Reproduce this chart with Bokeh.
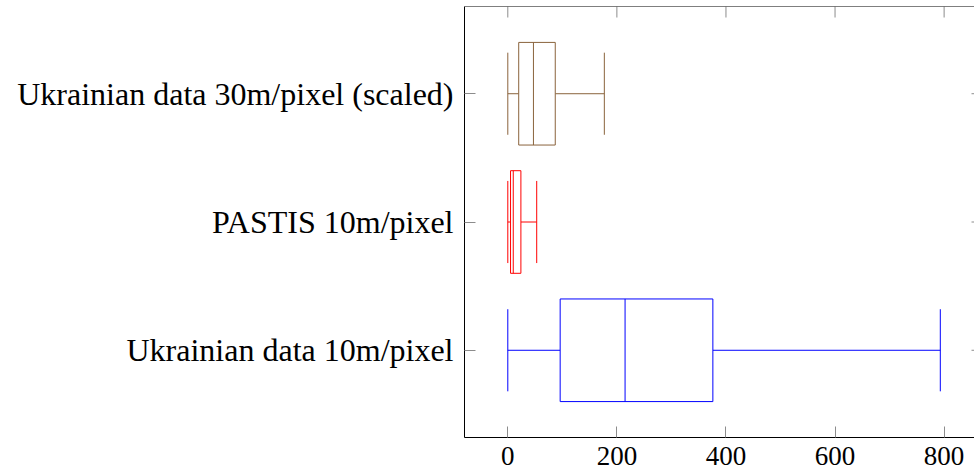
from bokeh.plotting import figure
from bokeh.models import LinearAxis, FixedTicker, Range1d, ColumnDataSource, Span
from bokeh.embed import file_html
from bokeh.resources import INLINE

# data (bottom to top)
categories = ["Ukrainian data 10m/pixel", "PASTIS 10m/pixel", "Ukrainian data 30m/pixel (scaled)"]
lower_whisker = [0, 0, 0]
q1 = [96, 5, 20]
median = [215, 10, 47]
q3 = [376, 24, 87]
upper_whisker = [793, 53, 177]
colors = ["#0000ff", "#ff0000", "#8a633c"]
x_ticks = [0, 200, 400, 600, 800]

pos = [i + 1 for i in range(len(categories))]
box_half = 0.4
cap_half = 0.32

W, H = 974, 472
LEFT, TOP, BOTTOM = 464, 6, 35
X0, X1 = -79.4, 855.7
Y0, Y1 = 0.32, 3.68
frame_w = W - LEFT
frame_h = H - TOP - BOTTOM
px_x = frame_w / (X1 - X0)
px_y = frame_h / (Y1 - Y0)
TICK = 11

src = ColumnDataSource(dict(
    y=pos, lo=lower_whisker, q1=q1, med=median, q3=q3, hi=upper_whisker, color=colors,
    ytop=[y + box_half for y in pos], ybot=[y - box_half for y in pos],
    ctop=[y + cap_half for y in pos], cbot=[y - cap_half for y in pos],
))

FONT = "Liberation Serif"
TICK_COLOR = "#8c8c8c"

p = figure(width=W, height=H, output_backend="svg", toolbar_location=None,
           x_range=Range1d(X0, X1), y_range=Range1d(Y0, Y1),
           min_border_left=LEFT, min_border_right=0, min_border_top=TOP, min_border_bottom=BOTTOM,
           x_axis_location=None, y_axis_location=None)
p.grid.visible = False
p.outline_line_color = None
p.background_fill_color = "white"
p.border_fill_color = "white"

def mk_axis(ticks, size, standoff, overrides=None):
    ax = LinearAxis(ticker=FixedTicker(ticks=ticks))
    ax.axis_line_color = "#000000"
    ax.axis_line_width = 1
    ax.major_tick_in = TICK
    ax.major_tick_out = 0
    ax.major_tick_line_color = TICK_COLOR
    ax.minor_tick_line_color = None
    ax.major_label_text_font = FONT
    ax.major_label_text_font_size = size
    ax.major_label_text_color = "#000000"
    ax.major_label_standoff = standoff
    if overrides:
        ax.major_label_overrides = overrides
    return ax

p.add_layout(mk_axis(x_ticks, "27px", 9), "below")
p.add_layout(mk_axis(pos, "32px", 11, {y: c for y, c in zip(pos, categories)}), "left")

# top frame line
p.add_layout(Span(location=Y1, dimension="width", line_color="#000000", line_width=1))

# mirrored ticks on top and right
tsrc = ColumnDataSource(dict(x=x_ticks, y0=[Y1] * len(x_ticks), y1=[Y1 - TICK / px_y] * len(x_ticks)))
p.segment(x0="x", y0="y0", x1="x", y1="y1", color=TICK_COLOR, line_width=1, source=tsrc)
rsrc = ColumnDataSource(dict(y=pos, x0=[X1] * len(pos), x1=[X1 - 3 / px_x] * len(pos)))
p.segment(x0="x0", y0="y", x1="x1", y1="y", color=TICK_COLOR, line_width=1, source=rsrc)

# whiskers
p.segment(x0="lo", y0="y", x1="q1", y1="y", color="color", line_width=1, source=src)
p.segment(x0="q3", y0="y", x1="hi", y1="y", color="color", line_width=1, source=src)
p.segment(x0="lo", y0="cbot", x1="lo", y1="ctop", color="color", line_width=1, source=src)
p.segment(x0="hi", y0="cbot", x1="hi", y1="ctop", color="color", line_width=1, source=src)
# boxes
p.quad(left="q1", right="q3", bottom="ybot", top="ytop", fill_color="white",
       line_color="color", line_width=1, source=src)
p.segment(x0="med", y0="ybot", x1="med", y1="ytop", color="color", line_width=1, source=src)

open("out.html", "w").write(file_html(p, INLINE))
